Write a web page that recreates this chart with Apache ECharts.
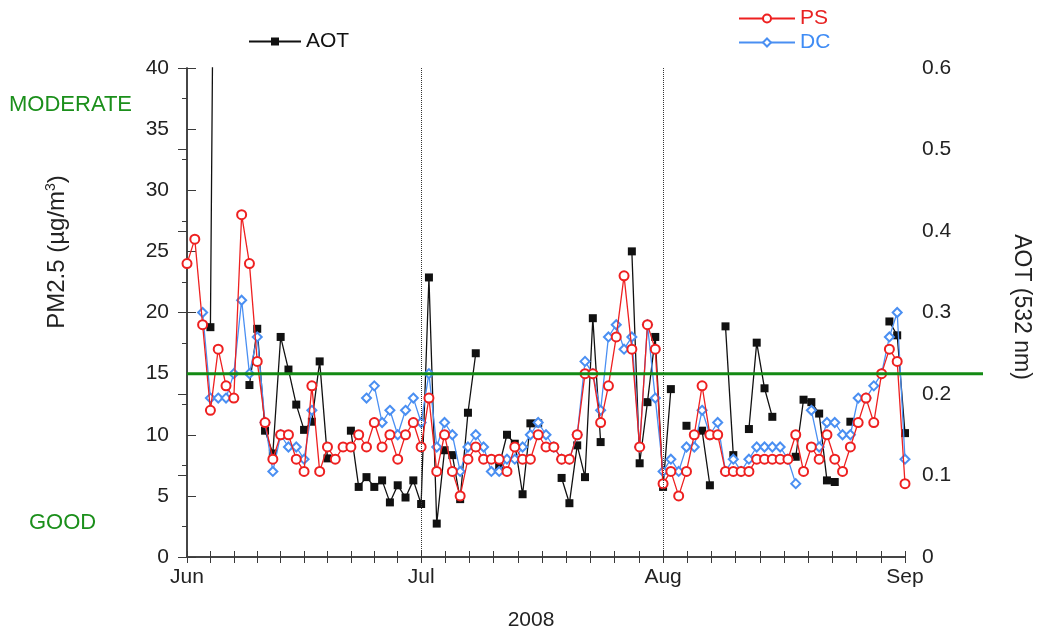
<!DOCTYPE html>
<html>
<head>
<meta charset="utf-8">
<script src="https://cdn.jsdelivr.net/npm/echarts@6/dist/echarts.min.js"></script>
<style>
  html, body { margin: 0; padding: 0; background: #fff; }
  #main { width: 1037px; height: 634px; }
</style>
</head>
<body>
<div id="main"></div>
<script>
// day index 0 = 1 Jun 2008, 92 = 1 Sep 2008
var monthStarts = [0, 30, 61, 92];
var monthNames = ['Jun', 'Jul', 'Aug', 'Sep'];
var greenLevel = 15;

// PM2.5 (ug/m3), PS site
var ps = [24, 26, 19, 12, 17, 14, 13, 28, 24, 16,
          11, 8, 10, 10, 8, 7, 14, 7, 9, 8,
          9, 9, 10, 9, 11, 9, 10, 8, 10, 11,
          9, 13, 7, 10, 7, 5, 8, 9, 8, 8,
          8, 7, 9, 8, 8, 10, 9, 9, 8, 8,
          10, 15, 15, 11, 14, 18, 23, 17, 9, 19,
          17, 6, 7, 5, 7, 10, 14, 10, 10, 7,
          7, 7, 7, 8, 8, 8, 8, 8, 10, 7,
          9, 8, 10, 8, 7, 9, 11, 13, 11, 15,
          17, 16, 6];

// PM2.5 (ug/m3), DC site
var dc = [null, null, 20, 13, 13, 13, 15, 21, 15, 18,
          11, 7, 10, 9, 9, 8, 12, null, null, null,
          null, null, null, 13, 14, 11, 12, 10, 12, 13,
          11, 15, 9, 11, 10, 7, 9, 10, 9, 7,
          7, 8, 8, 9, 10, 11, 10, 9, 8, 8,
          10, 16, 15, 12, 18, 19, 17, 18, 9, 19,
          13, 7, 8, 7, 9, 9, 12, 10, 11, 7,
          8, 7, 8, 9, 9, 9, 9, 8, 6, null,
          12, 9, 11, 11, 10, 10, 13, 13, 14, 15,
          18, 20, 8];

// AOT at 532 nm
var aot = [null, null, null, 0.282, 1.5, null, null, null, 0.211, 0.28,
           0.155, 0.127, 0.27, 0.23, 0.187, 0.156, 0.166, 0.24, 0.121, null,
           null, 0.155, 0.086, 0.098, 0.086, 0.094, 0.067, 0.088, 0.073, 0.094,
           0.065, 0.343, 0.041, 0.131, 0.125, 0.071, 0.177, 0.25, null, null,
           0.112, 0.15, 0.139, 0.077, 0.164, 0.164, null, null, 0.097, 0.066,
           0.137, 0.098, 0.293, 0.141, null, null, null, 0.375, 0.115, 0.19,
           0.27, 0.086, 0.206, null, 0.161, null, 0.155, 0.088, null, 0.283,
           0.125, null, 0.157, 0.263, 0.207, 0.172, null, null, 0.123, 0.193,
           0.19, 0.176, 0.094, 0.092, null, 0.166, null, null, null, null,
           0.289, 0.272, 0.152];

function pairs(arr) {
  return arr.map(function (v, i) { return [i, v]; });
}

// small ticks: ten per month
var tickDays = [];
for (var m = 0; m < monthStarts.length - 1; m++) {
  var len = monthStarts[m + 1] - monthStarts[m];
  for (var k = 0; k < 10; k++) tickDays.push(monthStarts[m] + len * k / 10);
}
tickDays.push(92);

var font = 'Liberation Sans, Arial, sans-serif';
var axisColor = '#3a3a3a';

var xBase = {
  type: 'value', min: 0, max: 92,
  axisLine: { show: true, lineStyle: { color: axisColor, width: 1.5 } },
  axisTick: { show: true, inside: true, length: 6, customValues: tickDays, lineStyle: { color: axisColor } },
  splitLine: { show: false }
};

var chart = echarts.init(document.getElementById('main'));
var option = {
  backgroundColor: '#fff',
  animation: false,
  grid: { left: 187, right: 132, top: 68, bottom: 77 },
  legend: [
    {
      data: ['AOT'], left: 243, top: 26, itemWidth: 52, itemHeight: 10, itemGap: 8,
      textStyle: { fontSize: 21, color: '#111', fontFamily: font }
    },
    {
      data: [
        { name: 'PS', textStyle: { color: '#e82222' } },
        { name: 'DC', textStyle: { color: '#3f8cf5' } }
      ],
      orient: 'vertical', left: 733, top: 3, itemGap: 3, itemWidth: 56, itemHeight: 10,
      textStyle: { fontSize: 21, fontFamily: font }
    }
  ],
  xAxis: [
    Object.assign({}, xBase, {
      position: 'bottom',
      axisLabel: {
        customValues: monthStarts, showMinLabel: true, showMaxLabel: true,
        formatter: function (v) { return monthNames[monthStarts.indexOf(v)]; },
        fontSize: 21, color: '#222', fontFamily: font, margin: 10
      }
    }),
    Object.assign({}, xBase, { position: 'top', axisLabel: { show: false } })
  ],
  yAxis: [
    {
      type: 'value', min: 0, max: 40, interval: 5, position: 'left',
      axisLine: { show: true, lineStyle: { color: axisColor, width: 1.5 } },
      axisTick: { show: true, inside: true, length: 9, lineStyle: { color: axisColor } },
      minorTick: { show: true, splitNumber: 2, length: -5, lineStyle: { color: axisColor } },
      axisLabel: { fontSize: 21, color: '#222', fontFamily: font, margin: 18 },
      splitLine: { show: false }
    },
    {
      type: 'value', min: 0, max: 0.6, interval: 0.1, position: 'right',
      axisLine: { show: true, lineStyle: { color: axisColor, width: 1.5 } },
      axisTick: { show: true, inside: true, length: 9, lineStyle: { color: axisColor } },
      axisLabel: { fontSize: 21, color: '#222', fontFamily: font, margin: 17 },
      splitLine: { show: false }
    }
  ],
  series: [
    {
      name: 'AOT', type: 'line', yAxisIndex: 1, data: pairs(aot),
      color: '#111', symbol: 'rect', symbolSize: 8,
      lineStyle: { width: 1.3 }, connectNulls: false, z: 2
    },
    {
      name: 'DC', type: 'line', yAxisIndex: 0, data: pairs(dc),
      color: '#4a8ff2', symbol: 'emptyDiamond', symbolSize: 9,
      lineStyle: { width: 1.3 }, itemStyle: { borderWidth: 1.3 }, connectNulls: false, z: 3
    },
    {
      name: 'PS', type: 'line', yAxisIndex: 0, data: pairs(ps),
      color: '#ee2020', symbol: 'emptyCircle', symbolSize: 9,
      lineStyle: { width: 1.3 }, itemStyle: { borderWidth: 1.5 }, connectNulls: false, z: 4,
      markLine: {
        silent: true, symbol: 'none', label: { show: false },
        lineStyle: { type: 'dotted', color: '#333', width: 1 },
        data: [{ xAxis: monthStarts[1] }, { xAxis: monthStarts[2] }]
      }
    }
  ],
  graphic: [
    { type: 'text', left: 9, top: 94, style: { text: 'MODERATE', fill: '#1b8f1b', font: '22px ' + font } },
    { type: 'text', left: 29, top: 512, style: { text: 'GOOD', fill: '#1b8f1b', font: '22px ' + font } },
    { type: 'text', x: 531, y: 620, style: { text: '2008', fill: '#222', font: '21px ' + font, align: 'center', verticalAlign: 'middle' } },
    {
      type: 'text', x: 57, y: 252, rotation: Math.PI / 2,
      style: {
        text: 'PM2.5 (µg/m{s|3})', fill: '#222', font: '24px ' + font,
        align: 'center', verticalAlign: 'middle',
        rich: { s: { fontSize: 14, verticalAlign: 'top', padding: [0, 0, 12, 0], fill: '#222' } }
      }
    },
    {
      type: 'text', x: 1021, y: 307, rotation: -Math.PI / 2,
      style: { text: 'AOT (532 nm)', fill: '#222', font: '23px ' + font, align: 'center', verticalAlign: 'middle' }
    }
  ]
};
chart.setOption(option);

// green reference line at PM2.5 = 15, running past the right axis
var yG = chart.convertToPixel({ yAxisIndex: 0 }, greenLevel);
var xG = chart.convertToPixel({ xAxisIndex: 0 }, 0);
chart.setOption({
  graphic: option.graphic.concat([{
    type: 'line', z: 100, silent: true,
    shape: { x1: xG, y1: yG, x2: chart.getWidth() - 54, y2: yG },
    style: { stroke: '#138a13', lineWidth: 3 }
  }])
});
</script>
</body>
</html>
